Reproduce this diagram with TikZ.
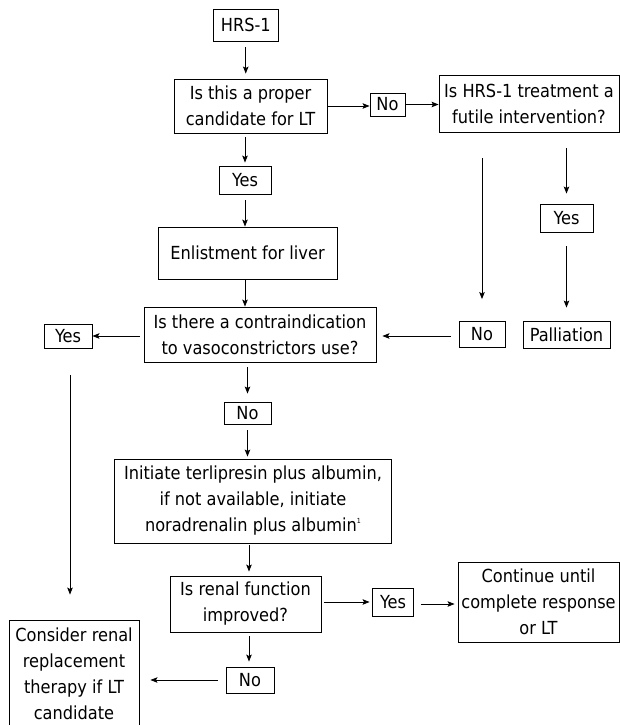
\documentclass[tikz,border=0pt]{standalone}
\usepackage{fontspec}
\setmainfont{DejaVu Sans Condensed}
\usetikzlibrary{arrows.meta}
\begin{document}
\begin{tikzpicture}[x=1pt,y=-1pt,
  box/.style={draw, line width=0.9pt, inner sep=0pt, align=center,
    font=\fontsize{18}{26}\selectfont},
  conn/.style={line width=0.9pt, -{Stealth[length=7pt,width=5.5pt,inset=1.5pt]}}]
\useasboundingbox (0,0) rectangle (620,725);
\fill[white] (0,0) rectangle (620,725);
% nodes
\node[box, minimum width=64.5pt, minimum height=32pt] (hrs) at (245.75,25) {HRS-1};
\node[box, minimum width=153pt, minimum height=54pt] (q1) at (250.5,106) {Is this a proper\\candidate for LT};
\node[box, minimum width=35pt, minimum height=23pt] (no1) at (387.5,104.5) {No};
\node[box, minimum width=180pt, minimum height=57pt] (q2) at (529,103.5) {Is HRS-1 treatment a\\futile intervention?};
\node[box, minimum width=52pt, minimum height=28pt] (yes1) at (245,180) {Yes};
\node[box, minimum width=179pt, minimum height=52pt] (enl) at (247.5,253) {Enlistment for liver};
\node[box, minimum width=232pt, minimum height=55pt] (q3) at (260,334.5) {Is there a contraindication\\to vasoconstrictors use?};
\node[box, minimum width=48pt, minimum height=24pt] (yes2) at (68,336) {Yes};
\node[box, minimum width=46pt, minimum height=26pt] (no2) at (482,334.5) {No};
\node[box, minimum width=53pt, minimum height=28pt] (yes3) at (566.5,218) {Yes};
\node[box, minimum width=87pt, minimum height=27pt] (pall) at (566.5,334.5) {Palliation};
\node[box, minimum width=47pt, minimum height=22pt] (no3) at (247.5,413) {No};
\node[box, minimum width=277pt, minimum height=84pt] (init) at (253,501) {Initiate terlipresin plus albumin,\\if not available, initiate\\noradrenalin plus albumin\raisebox{8pt}{\fontsize{7}{7}\selectfont 1}};
\node[box, minimum width=151pt, minimum height=56pt] (q4) at (245.5,604) {Is renal function\\improved?};
\node[box, minimum width=41pt, minimum height=28pt] (yes4) at (393,602) {Yes};
\node[box, minimum width=161pt, minimum height=80pt] (cont) at (538.5,602) {Continue until\\complete response\\or LT};
\node[box, minimum width=48pt, minimum height=26pt] (no4) at (250,680) {No};
\node[box, minimum width=130pt, minimum height=108pt] (cons) at (74,674) {Consider renal\\replacement\\therapy if LT\\candidate};
% connectors
\draw[conn, shorten <=6pt, shorten >=5pt] (hrs.south) -- (hrs.south |- q1.north);
\draw[conn, shorten <=4pt, shorten >=3pt] (q1.south -| yes1) -- (yes1.north);
\draw[conn, shorten <=6pt] (yes1.south) -- (yes1.south |- enl.north);
\draw[conn] (enl.south -| yes1) -- (yes1 |- q3.north);
\draw[conn, shorten <=5pt, shorten >=8pt] (q3.south -| no3) -- (no3.north);
\draw[conn, shorten <=6pt, shorten >=2pt] (no3.south) -- (no3.south |- init.north);
\draw[conn, shorten <=2pt, shorten >=4pt] (init.south -| 249,0) -- (q4.north -| 249,0);
\draw[conn, shorten <=4pt, shorten >=5pt] (q4.south -| 249,0) -- (no4.north -| 249,0);
\draw[conn, shorten <=8pt, shorten >=11pt] (no4.west) -- (no4.west -| cons.east);
\draw[conn] (q1.east |- 0,106) -- (no1.west |- 0,106);
\draw[conn] (no1.east) -- (no1.east -| q2.west);
\draw[conn, shorten <=26pt, shorten >=22pt] (q2.south -| no2) -- (no2.north);
\draw[conn, shorten <=16pt, shorten >=10pt] (q2.south -| yes3) -- (yes3.north);
\draw[conn, shorten <=14pt, shorten >=13pt] (yes3.south) -- (pall.north);
\draw[conn, shorten <=8pt, shorten >=6pt] (no2.west |- 0,336) -- (q3.east |- 0,336);
\draw[conn, shorten <=4pt] (q3.west |- yes2) -- (yes2.east);
\draw[conn, shorten <=27pt, shorten >=25pt] (yes2.south -| 70,0) -- (cons.north -| 70,0);
\draw[conn, shorten <=2.5pt, shorten >=2.5pt] (q4.east |- yes4) -- (yes4.west);
\draw[conn, shorten <=7pt, shorten >=3pt] (yes4.east |- 0,604) -- (cont.west |- 0,604);
\end{tikzpicture}
\end{document}
